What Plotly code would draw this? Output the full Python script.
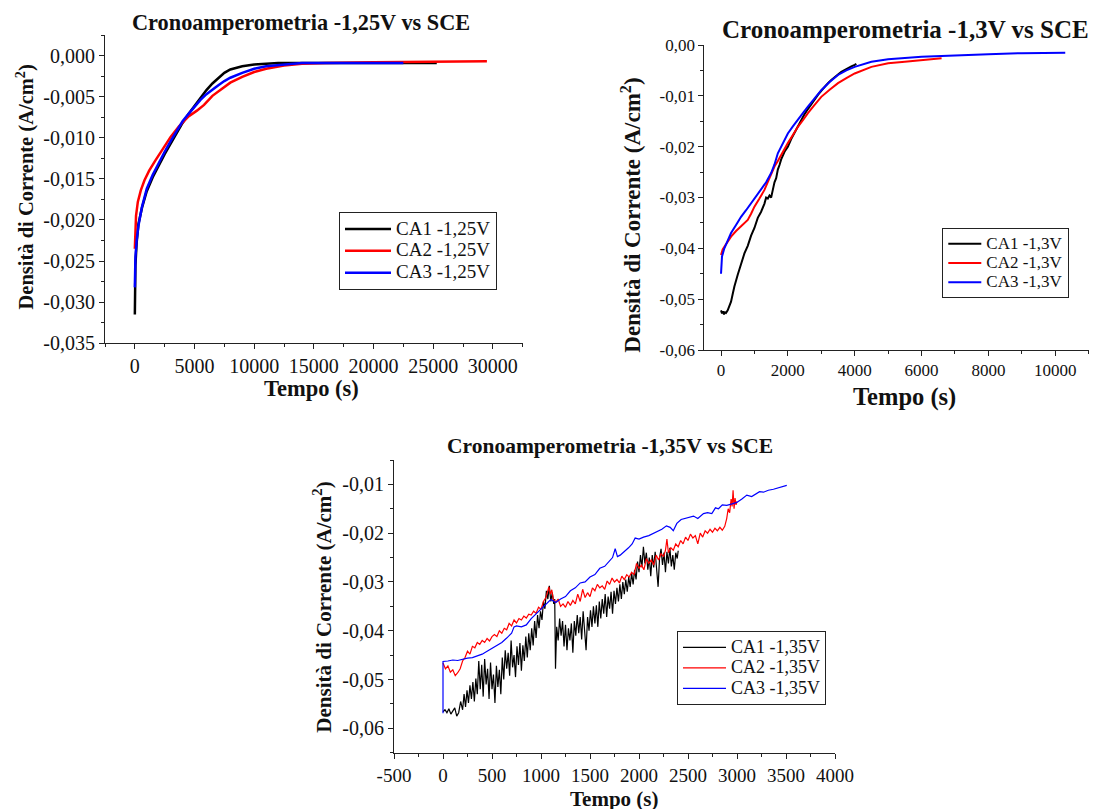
import plotly.graph_objects as go

# ---- dati ----
# Cronoamperometria -1,25V
t125_ca1 = [0, 10, 50, 150, 300, 600, 1000, 1500, 2000, 2500, 3000, 3500, 4000, 4500, 5000, 5500,
            6000, 6500, 7000, 7500, 8000, 9000, 10000, 11000, 12000, 14000, 17000, 20000, 25300]
j125_ca1 = [-0.0315, -0.0280, -0.0255, -0.0228, -0.0205, -0.0185, -0.0165, -0.0148, -0.0133, -0.0120,
            -0.0107, -0.0094, -0.0082, -0.0071, -0.0061, -0.0051, -0.0042, -0.0034, -0.0027, -0.0021,
            -0.0017, -0.0013, -0.0011, -0.0010, -0.0009, -0.0009, -0.0009, -0.0009, -0.0009]
t125_ca2 = [0, 20, 100, 250, 500, 800, 1200, 1700, 2300, 3000, 3700, 4500, 5200, 5800, 6500, 7200,
            8000, 9000, 10000, 11000, 12500, 14000, 16000, 20000, 25000, 29500]
j125_ca2 = [-0.0235, -0.0215, -0.0195, -0.0178, -0.0164, -0.0152, -0.0140, -0.0128, -0.0114, -0.0099,
            -0.0086, -0.0074, -0.0067, -0.0060, -0.0049, -0.0041, -0.0033, -0.0026, -0.0020, -0.0016,
            -0.0012, -0.0010, -0.0009, -0.0008, -0.0007, -0.0007]
t125_ca3 = [0, 10, 50, 150, 300, 600, 1000, 1500, 2000, 2500, 3000, 3500, 4000, 4500, 5000, 5500,
            6000, 6500, 7000, 7500, 8000, 9000, 10000, 11000, 12500, 14000, 17000, 22500]
j125_ca3 = [-0.0282, -0.0265, -0.0245, -0.0225, -0.0207, -0.0184, -0.0162, -0.0145, -0.0130, -0.0117,
            -0.0104, -0.0092, -0.0080, -0.0071, -0.0062, -0.0054, -0.0047, -0.0041, -0.0036, -0.0031,
            -0.0027, -0.0021, -0.0016, -0.0013, -0.0011, -0.0009, -0.0009, -0.0009]

# Cronoamperometria -1,3V
t13_ca1 = [0, 30, 60, 90, 120, 150, 200, 250, 300, 350, 400, 500, 600, 700, 800, 900, 1000, 1100,
           1200, 1300, 1350, 1400, 1450, 1500, 1550, 1600, 1650, 1700, 1750, 1800, 1900, 2000, 2100,
           2200, 2300, 2400, 2500, 2600, 2700, 2800, 2900, 3000, 3100, 3200, 3300, 3400, 3500, 3600,
           3700, 3800, 3900, 4000, 4050]
j13_ca1 = [-0.0522, -0.0528, -0.0524, -0.0530, -0.0526, -0.0527, -0.0522, -0.0515, -0.0505, -0.0490,
           -0.0475, -0.0452, -0.0430, -0.0410, -0.0395, -0.0375, -0.0360, -0.0340, -0.0328, -0.0312,
           -0.0300, -0.0302, -0.0296, -0.0300, -0.0285, -0.0270, -0.0262, -0.0245, -0.0236, -0.0225,
           -0.0210, -0.0200, -0.0185, -0.0172, -0.0160, -0.0147, -0.0136, -0.0126, -0.0116, -0.0108,
           -0.0098, -0.0090, -0.0082, -0.0075, -0.0069, -0.0063, -0.0058, -0.0053, -0.0049, -0.0045,
           -0.0042, -0.0039, -0.0037]
t13_ca2 = [0, 50, 100, 200, 300, 450, 600, 700, 800, 900, 1000, 1150, 1300, 1450, 1600, 1700, 1800,
           1900, 2000, 2150, 2300, 2450, 2600, 2800, 3000, 3250, 3500, 3750, 4000, 4500, 5000, 5500,
           6000, 6600]
j13_ca2 = [-0.0413, -0.0402, -0.0397, -0.0388, -0.0377, -0.0366, -0.0357, -0.0352, -0.0344, -0.0332,
           -0.0318, -0.0302, -0.0285, -0.0262, -0.0239, -0.0228, -0.0216, -0.0203, -0.0193, -0.0177,
           -0.0161, -0.0148, -0.0134, -0.0118, -0.0102, -0.0088, -0.0075, -0.0065, -0.0056, -0.0043,
           -0.0036, -0.0033, -0.0030, -0.0026]
t13_ca3 = [0, 30, 100, 200, 300, 450, 600, 750, 900, 1050, 1200, 1350, 1500, 1600, 1700, 1850, 2000,
           2150, 2300, 2450, 2600, 2800, 3000, 3250, 3500, 3750, 4000, 4500, 5000, 6000, 7000, 8000,
           9000, 10300]
j13_ca3 = [-0.0450, -0.0416, -0.0400, -0.0385, -0.0370, -0.0354, -0.0338, -0.0325, -0.0311, -0.0298,
           -0.0285, -0.0270, -0.0252, -0.0235, -0.0213, -0.0192, -0.0174, -0.0160, -0.0148, -0.0134,
           -0.0121, -0.0105, -0.0089, -0.0073, -0.0059, -0.0050, -0.0043, -0.0033, -0.0028, -0.0023,
           -0.0020, -0.0018, -0.0016, -0.0015]

# Cronoamperometria -1,35V (curve rumorose, punti letti a mano)
t135_ca1 = [0, 20, 40, 60, 80, 100, 120, 140, 160, 180, 200, 215, 230, 245, 260, 275, 290, 305, 320,
            335, 350, 365, 380, 395, 410, 425, 440, 455, 470, 485, 500, 515, 530, 545, 560, 575, 590,
            605, 620, 635, 650, 665, 680, 695, 710, 725, 740, 755, 770, 785, 800, 815, 830, 845, 860,
            875, 890, 905, 920, 935, 950, 965, 980, 995, 1010, 1025, 1040, 1055, 1070, 1085, 1100,
            1115, 1130, 1140, 1148, 1160, 1175, 1190, 1205, 1220, 1235, 1250, 1265, 1280, 1295, 1310,
            1325, 1340, 1355, 1370, 1385, 1400, 1415, 1430, 1445, 1460, 1475, 1490, 1505, 1520, 1535,
            1550, 1565, 1580, 1595, 1610, 1625, 1640, 1655, 1670, 1685, 1700, 1715, 1730, 1745, 1760,
            1775, 1790, 1805, 1820, 1835, 1850, 1865, 1880, 1895, 1910, 1925, 1940, 1955, 1970, 1985,
            2000, 2015, 2030, 2045, 2060, 2075, 2090, 2105, 2120, 2135, 2150, 2165, 2180, 2195, 2210,
            2225, 2240, 2255, 2270, 2285, 2300, 2315, 2330, 2345, 2360, 2375, 2390, 2400]
j135_ca1 = [-0.0566, -0.0562, -0.0568, -0.0560, -0.0571, -0.0565, -0.0558, -0.0575, -0.0568, -0.0545,
            -0.0562, -0.0530, -0.0556, -0.0522, -0.0548, -0.0512, -0.0540, -0.0505, -0.0545, -0.0498,
            -0.0530, -0.0462, -0.0520, -0.0470, -0.0535, -0.0458, -0.0510, -0.0478, -0.0540, -0.0465,
            -0.0520, -0.0490, -0.0548, -0.0472, -0.0515, -0.0480, -0.0530, -0.0455, -0.0500, -0.0440,
            -0.0478, -0.0445, -0.0492, -0.0420, -0.0475, -0.0450, -0.0495, -0.0432, -0.0470, -0.0425,
            -0.0482, -0.0430, -0.0462, -0.0412, -0.0455, -0.0405, -0.0440, -0.0395, -0.0430, -0.0380,
            -0.0415, -0.0368, -0.0395, -0.0360, -0.0378, -0.0340, -0.0355, -0.0318, -0.0335, -0.0308,
            -0.0340, -0.0322, -0.0345, -0.0335, -0.0478, -0.0392, -0.0420, -0.0375, -0.0410, -0.0380,
            -0.0432, -0.0388, -0.0440, -0.0395, -0.0420, -0.0385, -0.0445, -0.0380, -0.0410, -0.0368,
            -0.0405, -0.0372, -0.0418, -0.0360, -0.0395, -0.0440, -0.0372, -0.0400, -0.0358, -0.0392,
            -0.0350, -0.0385, -0.0348, -0.0392, -0.0340, -0.0375, -0.0335, -0.0365, -0.0325, -0.0372,
            -0.0330, -0.0355, -0.0320, -0.0365, -0.0318, -0.0345, -0.0312, -0.0340, -0.0305, -0.0335,
            -0.0300, -0.0325, -0.0295, -0.0320, -0.0290, -0.0310, -0.0282, -0.0305, -0.0275, -0.0295,
            -0.0258, -0.0280, -0.0245, -0.0270, -0.0228, -0.0262, -0.0240, -0.0275, -0.0250, -0.0288,
            -0.0245, -0.0270, -0.0238, -0.0268, -0.0310, -0.0250, -0.0232, -0.0265, -0.0240, -0.0280,
            -0.0238, -0.0262, -0.0230, -0.0268, -0.0245, -0.0275, -0.0240, -0.0252, -0.0236]
t135_ca2 = [0, 25, 50, 75, 100, 125, 150, 175, 200, 225, 250, 275, 300, 325, 350, 375, 400, 425, 450,
            475, 500, 525, 550, 575, 600, 625, 650, 675, 700, 725, 750, 775, 800, 825, 850, 875, 900,
            925, 950, 975, 1000, 1025, 1050, 1065, 1080, 1095, 1110, 1125, 1150, 1175, 1200, 1225,
            1250, 1275, 1300, 1325, 1350, 1375, 1400, 1425, 1450, 1475, 1500, 1525, 1550, 1575, 1600,
            1625, 1650, 1675, 1700, 1725, 1750, 1775, 1800, 1825, 1850, 1875, 1900, 1925, 1950, 1975,
            2000, 2025, 2050, 2075, 2100, 2125, 2150, 2175, 2200, 2225, 2250, 2270, 2285, 2300, 2325,
            2350, 2375, 2400, 2425, 2450, 2475, 2500, 2525, 2550, 2575, 2600, 2625, 2650, 2675, 2700,
            2725, 2750, 2775, 2800, 2825, 2850, 2875, 2895, 2910, 2925, 2940, 2950, 2960, 2970, 2980,
            2990, 3000]
j135_ca2 = [-0.0466, -0.0478, -0.0472, -0.0485, -0.0480, -0.0492, -0.0486, -0.0478, -0.0462, -0.0455,
            -0.0442, -0.0448, -0.0432, -0.0435, -0.0424, -0.0428, -0.0420, -0.0424, -0.0416, -0.0421,
            -0.0412, -0.0408, -0.0412, -0.0400, -0.0405, -0.0395, -0.0398, -0.0385, -0.0390, -0.0378,
            -0.0384, -0.0375, -0.0378, -0.0370, -0.0374, -0.0366, -0.0368, -0.0360, -0.0364, -0.0352,
            -0.0356, -0.0340, -0.0332, -0.0318, -0.0310, -0.0325, -0.0316, -0.0335, -0.0342, -0.0335,
            -0.0350, -0.0345, -0.0352, -0.0340, -0.0348, -0.0338, -0.0345, -0.0325, -0.0340, -0.0315,
            -0.0332, -0.0322, -0.0330, -0.0312, -0.0318, -0.0305, -0.0312, -0.0308, -0.0315, -0.0298,
            -0.0305, -0.0292, -0.0300, -0.0295, -0.0302, -0.0288, -0.0295, -0.0285, -0.0290, -0.0280,
            -0.0285, -0.0262, -0.0272, -0.0265, -0.0275, -0.0252, -0.0262, -0.0255, -0.0265, -0.0245,
            -0.0255, -0.0242, -0.0248, -0.0235, -0.0212, -0.0240, -0.0230, -0.0235, -0.0222, -0.0228,
            -0.0215, -0.0222, -0.0208, -0.0215, -0.0202, -0.0210, -0.0205, -0.0222, -0.0200, -0.0208,
            -0.0195, -0.0200, -0.0192, -0.0198, -0.0190, -0.0195, -0.0188, -0.0194, -0.0186, -0.0170,
            -0.0150, -0.0158, -0.0130, -0.0145, -0.0112, -0.0150, -0.0128, -0.0142, -0.0135]
t135_ca3 = [0, 0, 50, 100, 150, 200, 250, 300, 350, 400, 450, 500, 550, 600, 650, 700, 725, 750, 800,
            850, 900, 950, 1000, 1050, 1100, 1150, 1200, 1250, 1300, 1350, 1400, 1450, 1500, 1550,
            1600, 1650, 1700, 1730, 1757, 1780, 1808, 1850, 1893, 1930, 1961, 2000, 2046, 2100, 2148,
            2190, 2233, 2280, 2318, 2350, 2386, 2430, 2471, 2510, 2556, 2600, 2658, 2700, 2743, 2780,
            2811, 2850, 2896, 2950, 2998, 3050, 3100, 3150, 3185, 3230, 3270, 3320, 3372, 3420, 3460,
            3508]
j135_ca3 = [-0.0569, -0.0463, -0.0462, -0.0460, -0.0461, -0.0458, -0.0456, -0.0455, -0.0452, -0.0448,
            -0.0442, -0.0436, -0.0430, -0.0424, -0.0415, -0.0405, -0.0392, -0.0390, -0.0392, -0.0388,
            -0.0375, -0.0365, -0.0355, -0.0345, -0.0336, -0.0342, -0.0335, -0.0330, -0.0318, -0.0312,
            -0.0302, -0.0300, -0.0290, -0.0285, -0.0272, -0.0268, -0.0258, -0.0250, -0.0232, -0.0248,
            -0.0245, -0.0238, -0.0230, -0.0222, -0.0210, -0.0212, -0.0208, -0.0205, -0.0200, -0.0196,
            -0.0192, -0.0185, -0.0188, -0.0195, -0.0180, -0.0172, -0.0170, -0.0168, -0.0165, -0.0170,
            -0.0160, -0.0158, -0.0160, -0.0148, -0.0150, -0.0142, -0.0143, -0.0140, -0.0137, -0.0130,
            -0.0122, -0.0125, -0.0120, -0.0115, -0.0116, -0.0112, -0.0110, -0.0107, -0.0106, -0.0102]

# etichette degli assi
y1_vals = [0.0, -0.005, -0.010, -0.015, -0.020, -0.025, -0.030, -0.035]
y1_text = ["0,000", "-0,005", "-0,010", "-0,015", "-0,020", "-0,025", "-0,030", "-0,035"]
x1_vals = [0, 5000, 10000, 15000, 20000, 25000, 30000]
y2_vals = [0.0, -0.01, -0.02, -0.03, -0.04, -0.05, -0.06]
y2_text = ["0,00", "-0,01", "-0,02", "-0,03", "-0,04", "-0,05", "-0,06"]
x2_vals = [0, 2000, 4000, 6000, 8000, 10000]
y3_vals = [-0.01, -0.02, -0.03, -0.04, -0.05, -0.06]
y3_text = ["-0,01", "-0,02", "-0,03", "-0,04", "-0,05", "-0,06"]
x3_vals = [-500, 0, 500, 1000, 1500, 2000, 2500, 3000, 3500, 4000]
x3_text = ["-500", "0", "500", "1000", "1500", "2000", "2500", "3000", "3500", "4000"]

W, H = 1097, 809
OFF = 8  # margine di default del body della pagina html
FONT = "Liberation Serif"
BLACK, RED, BLUE = "#000000", "#ff0000", "#0000ff"


def px(x):
    return (x - OFF) / W


def py(y):
    return 1 - (y - OFF) / H


def lname(text, size):
    # testo grande in una legenda con interlinea stretta
    return '<span style="font-size:%dpx">%s</span>' % (size, text)


fig = go.Figure()

# -1,25V
for t, j, name, col in [(t125_ca1, j125_ca1, "CA1 -1,25V", BLACK),
                        (t125_ca2, j125_ca2, "CA2 -1,25V", RED),
                        (t125_ca3, j125_ca3, "CA3 -1,25V", BLUE)]:
    fig.add_trace(go.Scatter(x=t, y=j, mode="lines", name=lname(name, 19),
                             line=dict(color=col, width=2.5),
                             xaxis="x", yaxis="y", legend="legend"))
# -1,3V
for t, j, name, col in [(t13_ca1, j13_ca1, "CA1 -1,3V", BLACK),
                        (t13_ca2, j13_ca2, "CA2 -1,3V", RED),
                        (t13_ca3, j13_ca3, "CA3 -1,3V", BLUE)]:
    fig.add_trace(go.Scatter(x=t, y=j, mode="lines", name=lname(name, 17),
                             line=dict(color=col, width=2),
                             xaxis="x2", yaxis="y2", legend="legend2"))
# -1,35V
for t, j, name, col in [(t135_ca1, j135_ca1, "CA1 -1,35V", BLACK),
                        (t135_ca2, j135_ca2, "CA2 -1,35V", RED),
                        (t135_ca3, j135_ca3, "CA3 -1,35V", BLUE)]:
    fig.add_trace(go.Scatter(x=t, y=j, mode="lines", name=lname(name, 18),
                             line=dict(color=col, width=1.2),
                             xaxis="x3", yaxis="y3", legend="legend3"))

axis_common = dict(showline=True, linecolor="#222", linewidth=1, showgrid=False, zeroline=False,
                   ticks="outside", ticklen=5, tickcolor="#222", mirror=False, automargin=False)
minor_style = dict(ticks="outside", ticklen=3, tickcolor="#222")


def tf(size):
    return dict(family=FONT, size=size, color="#111")


legend_common = dict(xanchor="left", yanchor="top", bgcolor="white", bordercolor="#222",
                     borderwidth=1)

fig.update_layout(
    template="none",
    width=W, height=H, margin=dict(l=0, r=0, t=0, b=0, autoexpand=False),
    paper_bgcolor="white", plot_bgcolor="white", font=dict(family=FONT, color="#111"),
    hovermode=False,
    xaxis=dict(axis_common, domain=[px(105), px(522.7)], range=[-2500, 32500], anchor="y",
               tickmode="array", tickvals=x1_vals, ticktext=[str(v) for v in x1_vals],
               tickfont=tf(20), minor=dict(minor_style, dtick=2500, tick0=-2500)),
    yaxis=dict(axis_common, domain=[py(343.3), py(35)], range=[-0.035, 0.0025], anchor="x",
               tickmode="array", tickvals=y1_vals, ticktext=y1_text,
               tickfont=tf(20), minor=dict(minor_style, dtick=0.0025, tick0=0)),
    xaxis2=dict(axis_common, domain=[px(704.3), px(1097)], range=[-500, 11250], anchor="y2",
                tickmode="array", tickvals=x2_vals, ticktext=[str(v) for v in x2_vals],
                tickfont=tf(17), minor=dict(minor_style, dtick=1000, tick0=0)),
    yaxis2=dict(axis_common, domain=[py(350), py(45)], range=[-0.06, 0.0], anchor="x2",
                tickmode="array", tickvals=y2_vals, ticktext=y2_text,
                tickfont=tf(17), minor=dict(minor_style, dtick=0.005, tick0=0)),
    xaxis3=dict(axis_common, domain=[px(394), px(835)], range=[-500, 4000], anchor="y3",
                tickmode="array", tickvals=x3_vals, ticktext=x3_text,
                tickfont=tf(19), minor=dict(minor_style, dtick=250, tick0=0)),
    yaxis3=dict(axis_common, domain=[py(752.7), py(460)], range=[-0.065, -0.005], anchor="x3",
                tickmode="array", tickvals=y3_vals, ticktext=y3_text,
                tickfont=tf(20), minor=dict(minor_style, dtick=0.005, tick0=0)),
    legend=dict(legend_common, x=px(339), y=py(212), itemwidth=46, font=tf(14.5)),
    legend2=dict(legend_common, x=px(942.3), y=py(228), itemwidth=33, font=tf(12.5)),
    legend3=dict(legend_common, x=px(677), y=py(631), itemwidth=43, font=tf(13.5)),
)

ylab = "<b>Densità di Corrente (A/cm<sup>2</sup>)</b>"
xlab = "<b>Tempo (s)</b>"
notes = [
    ("<b>Cronoamperometria -1,25V vs SCE</b>", 300.5, 22, 22.3, 0),
    ("<b>Cronoamperometria -1,3V vs SCE</b>", 905.5, 29, 25, 0),
    ("<b>Cronoamperometria -1,35V vs SCE</b>", 610, 446, 21.5, 0),
    (ylab, 25, 187.5, 20.5, -90),
    (ylab, 631.7, 215, 23, -90),
    (ylab, 321.7, 607, 21, -90),
    (xlab, 311.5, 388, 22.5, 0),
    (xlab, 904.5, 396.7, 24.5, 0),
    (xlab, 614, 799, 21, 0),
]
for text, x, y, size, ang in notes:
    fig.add_annotation(text=text, x=px(x), y=py(y), xref="paper", yref="paper", showarrow=False,
                       xanchor="center", yanchor="middle", textangle=ang,
                       font=dict(family=FONT, size=size, color="#111"))

fig.write_html("out.html")
